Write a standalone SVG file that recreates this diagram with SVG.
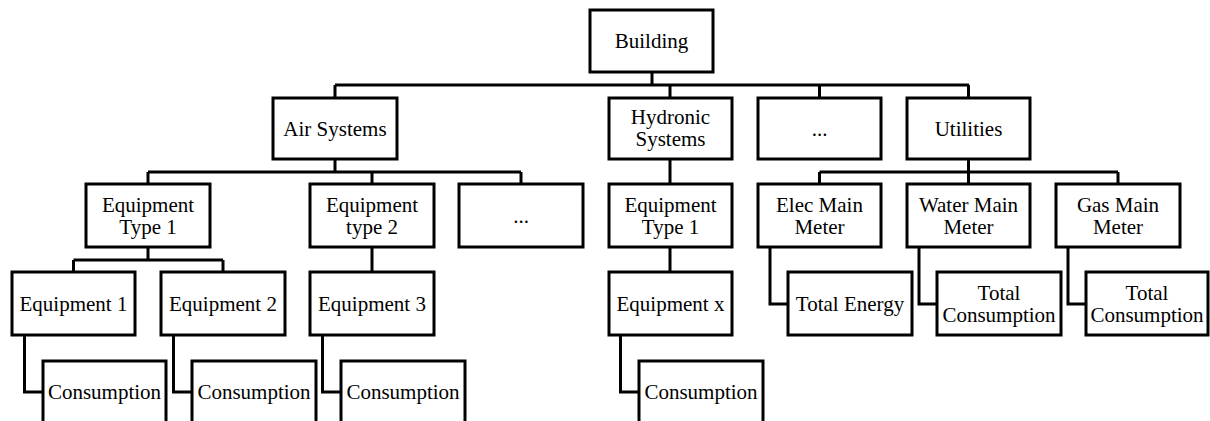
<svg xmlns="http://www.w3.org/2000/svg" width="1210" height="421" viewBox="0 0 1210 421" font-family="'Liberation Serif', 'DejaVu Serif', serif" font-size="21">
<style>
.box{fill:#fff;stroke:#000;stroke-width:3}
.c{fill:none;stroke:#000;stroke-width:3}
.t{font-family:'Liberation Serif','DejaVu Serif',serif;font-size:21px;fill:#000;text-anchor:middle}
</style>
<rect width="1210" height="421" fill="#fff"/>
<g id="connectors" class="c">
<path d="M652 72V85M335 85H969M335 85V98M670 85V98M819.5 85V98M968.5 85V98"/>
<path d="M335 159V172M148 172H521M148 172V184M372 172V184M521 172V184"/>
<path d="M670 159V184"/>
<path d="M968.5 159V172M819.5 172H1118M819.5 172V184M968.5 172V184M1118 172V184"/>
<path d="M148 247V260M73.5 260H223M73.5 260V272M223 260V272"/>
<path d="M372 247V272M670 247V272"/>
<path d="M770 247V304H788M919 247V304H937M1068 247V304H1086"/>
<path d="M24.5 335V392H43M173.5 335V392H192M322.5 335V392H341M620.5 335V392H639"/>
</g>
<g id="building"><rect class="box" x="590" y="10" width="123" height="62"/><text class="t" x="651.5" y="48">Building</text></g>
<g id="air"><rect class="box" x="273" y="98" width="124" height="61"/><text class="t" x="335" y="136">Air Systems</text></g>
<g id="hydronic"><rect class="box" x="609" y="98" width="123" height="61"/><text class="t" x="670.5" y="124">Hydronic</text><text class="t" x="670.5" y="146">Systems</text></g>
<g id="dots1"><rect class="box" x="758" y="98" width="123" height="61"/><text class="t" x="819.5" y="136">...</text></g>
<g id="utilities"><rect class="box" x="907" y="98" width="123" height="61"/><text class="t" x="968.5" y="136">Utilities</text></g>
<g id="eqtype1"><rect class="box" x="86" y="184" width="124" height="63"/><text class="t" x="148" y="212">Equipment</text><text class="t" x="148" y="234">Type 1</text></g>
<g id="eqtype2"><rect class="box" x="310" y="184" width="124" height="63"/><text class="t" x="372" y="212">Equipment</text><text class="t" x="372" y="234">type 2</text></g>
<g id="dots2"><rect class="box" x="459" y="184" width="124" height="63"/><text class="t" x="521" y="223">...</text></g>
<g id="hydeqtype1"><rect class="box" x="609" y="184" width="123" height="63"/><text class="t" x="670.5" y="212">Equipment</text><text class="t" x="670.5" y="234">Type 1</text></g>
<g id="elec"><rect class="box" x="758" y="184" width="123" height="63"/><text class="t" x="819.5" y="212">Elec Main</text><text class="t" x="819.5" y="234">Meter</text></g>
<g id="water"><rect class="box" x="907" y="184" width="123" height="63"/><text class="t" x="968.5" y="212">Water Main</text><text class="t" x="968.5" y="234">Meter</text></g>
<g id="gas"><rect class="box" x="1056" y="184" width="124" height="63"/><text class="t" x="1118" y="212">Gas Main</text><text class="t" x="1118" y="234">Meter</text></g>
<g id="eq1"><rect class="box" x="12" y="272" width="123" height="63"/><text class="t" x="73.5" y="311">Equipment 1</text></g>
<g id="eq2"><rect class="box" x="161" y="272" width="124" height="63"/><text class="t" x="223" y="311">Equipment 2</text></g>
<g id="eq3"><rect class="box" x="310" y="272" width="124" height="63"/><text class="t" x="372" y="311">Equipment 3</text></g>
<g id="eqx"><rect class="box" x="609" y="272" width="123" height="63"/><text class="t" x="670.5" y="311">Equipment x</text></g>
<g id="totalenergy"><rect class="box" x="788" y="272" width="124" height="63"/><text class="t" x="850" y="311">Total Energy</text></g>
<g id="watertotal"><rect class="box" x="937" y="272" width="124" height="63"/><text class="t" x="999" y="300">Total</text><text class="t" x="999" y="322">Consumption</text></g>
<g id="gastotal"><rect class="box" x="1086" y="272" width="122" height="63"/><text class="t" x="1147" y="300">Total</text><text class="t" x="1147" y="322">Consumption</text></g>
<g id="cons1"><rect class="box" x="43" y="361" width="123" height="62"/><text class="t" x="104.5" y="399">Consumption</text></g>
<g id="cons2"><rect class="box" x="192" y="361" width="124" height="62"/><text class="t" x="254" y="399">Consumption</text></g>
<g id="cons3"><rect class="box" x="341" y="361" width="124" height="62"/><text class="t" x="403" y="399">Consumption</text></g>
<g id="consx"><rect class="box" x="639" y="361" width="124" height="62"/><text class="t" x="701" y="399">Consumption</text></g>
</svg>
